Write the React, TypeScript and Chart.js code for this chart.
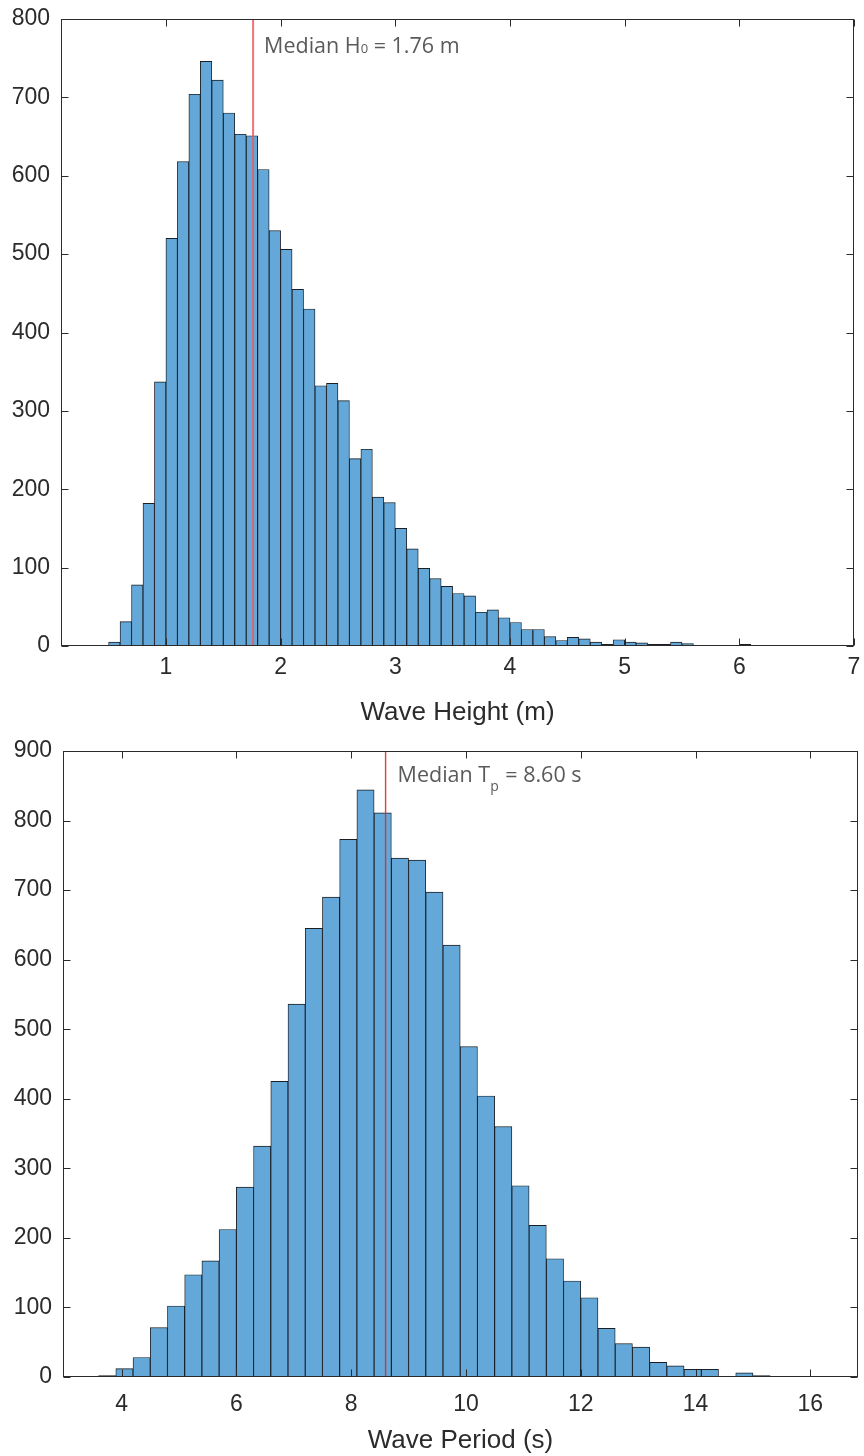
import React, { useEffect, useRef } from 'react';
import { Chart, registerables } from 'chart.js';

Chart.register(...registerables);

// Significant wave height: counts per 0.1 m bin, first bin starts at 0.4 m
const heightBinStart = 0.4;
const heightBinWidth = 0.1;
const heightCounts = [
  1, 5, 31, 78, 182, 337, 520, 618, 704, 746,
  722, 680, 653, 651, 608, 530, 506, 455, 430, 332,
  335, 313, 239, 251, 190, 183, 150, 124, 99, 86,
  76, 67, 64, 43, 46, 36, 30, 21, 21, 12,
  7, 11, 9, 5, 2, 8, 5, 4, 2, 2,
  5, 3, 1, 1, 1, 1, 2, 1, 0, 1,
  0, 1, 1,
];
const heightTicks = [1, 2, 3, 4, 5, 6, 7];
const heightMedian = 1.76;

// Peak wave period: counts per 0.3 s bin, first bin starts at 3.6 s
const periodBinStart = 3.6;
const periodBinWidth = 0.3;
const periodCounts = [
  2, 12, 28, 71, 102, 147, 167, 212, 273, 332,
  425, 536, 645, 690, 773, 844, 811, 746, 743, 697,
  621, 475, 404, 360, 275, 218, 170, 138, 114, 70,
  48, 43, 21, 16, 11, 11, 1, 6, 2, 1,
  1, 1,
];
const periodTicks = [4, 6, 8, 10, 12, 14, 16];
const periodMedian = 8.6;

const BAR_FILL = '#63a8d8';
const BAR_EDGE = 'rgba(8,12,18,0.92)';
const AXIS_COLOR = '#2b2b2b';
const LABEL_FONT = '"Liberation Sans", Arial, sans-serif';
const NOTE_FONT = '"Open Sans", "Noto Sans", sans-serif';

type LabelPart = { text: string; size: number; dy?: number; gap?: number };

type PanelConfig = {
  top: number;
  area: { left: number; top: number; right: number; bottom: number };
  xMin: number;
  xMax: number;
  yMax: number;
  yStep: number;
  xTicks: number[];
  binStart: number;
  binWidth: number;
  counts: number[];
  median: number;
  medianLabel: LabelPart[];
  labelOffset: { dx: number; dy: number };
  medianColor: string;
  medianWidth: number;
  title: string;
  xTickPadding: number;
  titlePadding: number;
};

const CANVAS_W = 864;
const CANVAS_H = 728;

const panels: PanelConfig[] = [
  {
    top: 0,
    area: { left: 61, top: 19, right: 854, bottom: 646 },
    xMin: 0.085,
    xMax: 7,
    yMax: 800,
    yStep: 100,
    xTicks: heightTicks,
    binStart: heightBinStart,
    binWidth: heightBinWidth,
    counts: heightCounts,
    median: heightMedian,
    medianLabel: [
      { text: 'Median H', size: 21.5 },
      { text: '0', size: 13 },
      { text: ` = ${heightMedian.toFixed(2)} m`, size: 21.5 },
    ],
    labelOffset: { dx: 11, dy: 33.5 },
    medianColor: 'rgba(236,90,96,0.85)',
    medianWidth: 2,
    title: 'Wave Height (m)',
    xTickPadding: 8,
    titlePadding: 0,
  },
  {
    top: 728,
    area: { left: 63, top: 23, right: 858, bottom: 649 },
    xMin: 2.98,
    xMax: 16.83,
    yMax: 900,
    yStep: 100,
    xTicks: periodTicks,
    binStart: periodBinStart,
    binWidth: periodBinWidth,
    counts: periodCounts,
    median: periodMedian,
    medianLabel: [
      { text: 'Median T', size: 21.5 },
      { text: 'p', size: 14, dy: 8.5, gap: 1 },
      { text: ` = ${periodMedian.toFixed(2)} s`, size: 21.5 },
    ],
    labelOffset: { dx: 12, dy: 31 },
    medianColor: 'rgba(226,40,40,0.9)',
    medianWidth: 1.4,
    title: 'Wave Period (s)',
    xTickPadding: 14,
    titlePadding: 0,
  },
];

// Box around the plot area, inward tick marks on all four sides,
// and the red median marker with its note.
const framePlugin = {
  id: 'histFrame',
  afterDatasetsDraw(chart: any, _args: any, opts: any) {
    const { ctx, chartArea: a, scales } = chart;
    const xs = scales.x;
    const ys = scales.y;
    const tickLen = 7;
    ctx.save();

    const mx = xs.getPixelForValue(opts.median);
    ctx.strokeStyle = opts.color;
    ctx.lineWidth = opts.width;
    ctx.beginPath();
    ctx.moveTo(mx, a.top);
    ctx.lineTo(mx, a.bottom);
    ctx.stroke();

    ctx.strokeStyle = AXIS_COLOR;
    ctx.lineWidth = 1;
    const L = Math.round(a.left) + 0.5;
    const R = Math.round(a.right) - 0.5;
    const T = Math.round(a.top) + 0.5;
    const B = Math.round(a.bottom) - 0.5;
    ctx.strokeRect(L, T, R - L, B - T);

    ctx.beginPath();
    for (const t of xs.ticks) {
      const px = Math.round(xs.getPixelForValue(t.value)) + 0.5;
      ctx.moveTo(px, B);
      ctx.lineTo(px, B - tickLen);
      ctx.moveTo(px, T);
      ctx.lineTo(px, T + tickLen);
    }
    for (const t of ys.ticks) {
      const py = Math.round(ys.getPixelForValue(t.value)) + 0.5;
      ctx.moveTo(L, py);
      ctx.lineTo(L + tickLen, py);
      ctx.moveTo(R, py);
      ctx.lineTo(R - tickLen, py);
    }
    ctx.stroke();

    // median note, drawn piece by piece so the subscript can be sized/shifted
    ctx.fillStyle = '#5a5a5a';
    ctx.textBaseline = 'alphabetic';
    ctx.textAlign = 'left';
    let cx = mx + opts.labelOffset.dx;
    const baseY = a.top + opts.labelOffset.dy;
    for (const part of opts.parts as LabelPart[]) {
      ctx.font = `${part.size}px ${NOTE_FONT}`;
      ctx.fillText(part.text, cx, baseY + (part.dy ?? 0));
      cx += ctx.measureText(part.text).width + (part.gap ?? 0);
    }
    ctx.restore();
  },
};

function HistogramPanel({ cfg }: { cfg: PanelConfig }) {
  const ref = useRef<HTMLCanvasElement>(null);

  useEffect(() => {
    const canvas = ref.current;
    if (!canvas) return;
    const { area } = cfg;
    const points = cfg.counts.map((c, i) => ({
      x: cfg.binStart + (i + 0.5) * cfg.binWidth,
      y: c,
    }));

    const chart = new Chart(canvas, {
      type: 'bar',
      data: {
        datasets: [
          {
            data: points as any,
            backgroundColor: BAR_FILL,
            borderColor: BAR_EDGE,
            borderWidth: 0.9,
            borderSkipped: false,
            barPercentage: 1,
            categoryPercentage: 1,
          },
        ],
      },
      options: {
        animation: false,
        responsive: false,
        devicePixelRatio: 1,
        events: [],
        layout: {
          padding: {
            left: 0,
            top: area.top,
            right: CANVAS_W - area.right,
            bottom: 0,
          },
        },
        plugins: {
          legend: { display: false },
          tooltip: { enabled: false },
          histFrame: {
            median: cfg.median,
            parts: cfg.medianLabel,
            labelOffset: cfg.labelOffset,
            color: cfg.medianColor,
            width: cfg.medianWidth,
          },
        } as any,
        scales: {
          x: {
            type: 'linear',
            min: cfg.xMin,
            max: cfg.xMax,
            offset: false,
            grid: { display: false, drawTicks: false },
            border: { display: false },
            afterBuildTicks: (scale: any) => {
              scale.ticks = cfg.xTicks.map((v) => ({ value: v }));
            },
            afterFit: (scale: any) => {
              scale.height = CANVAS_H - area.bottom;
              scale.paddingLeft = 0;
              scale.paddingRight = 0;
            },
            ticks: {
              autoSkip: false,
              maxRotation: 0,
              padding: cfg.xTickPadding,
              color: AXIS_COLOR,
              font: { family: LABEL_FONT, size: 23 },
            },
            title: {
              display: true,
              text: cfg.title,
              color: AXIS_COLOR,
              padding: { top: 0, bottom: cfg.titlePadding },
              font: { family: LABEL_FONT, size: 26 },
            },
          },
          y: {
            type: 'linear',
            min: 0,
            max: cfg.yMax,
            grid: { display: false, drawTicks: false },
            border: { display: false },
            afterFit: (scale: any) => {
              scale.width = area.left;
              scale.paddingTop = 0;
              scale.paddingBottom = 0;
            },
            ticks: {
              stepSize: cfg.yStep,
              autoSkip: false,
              padding: 11,
              color: AXIS_COLOR,
              font: { family: LABEL_FONT, size: 23 },
            },
          },
        },
      },
      plugins: [framePlugin],
    });

    return () => chart.destroy();
  }, [cfg]);

  return (
    <canvas
      ref={ref}
      width={CANVAS_W}
      height={CANVAS_H}
      style={{ position: 'absolute', left: 0, top: cfg.top, display: 'block' }}
    />
  );
}

export default function App() {
  return (
    <div
      style={{
        position: 'absolute',
        left: 0,
        top: 0,
        width: CANVAS_W,
        height: CANVAS_H * 2,
        background: '#ffffff',
      }}
    >
      {panels.map((p) => (
        <HistogramPanel key={p.title} cfg={p} />
      ))}
    </div>
  );
}
